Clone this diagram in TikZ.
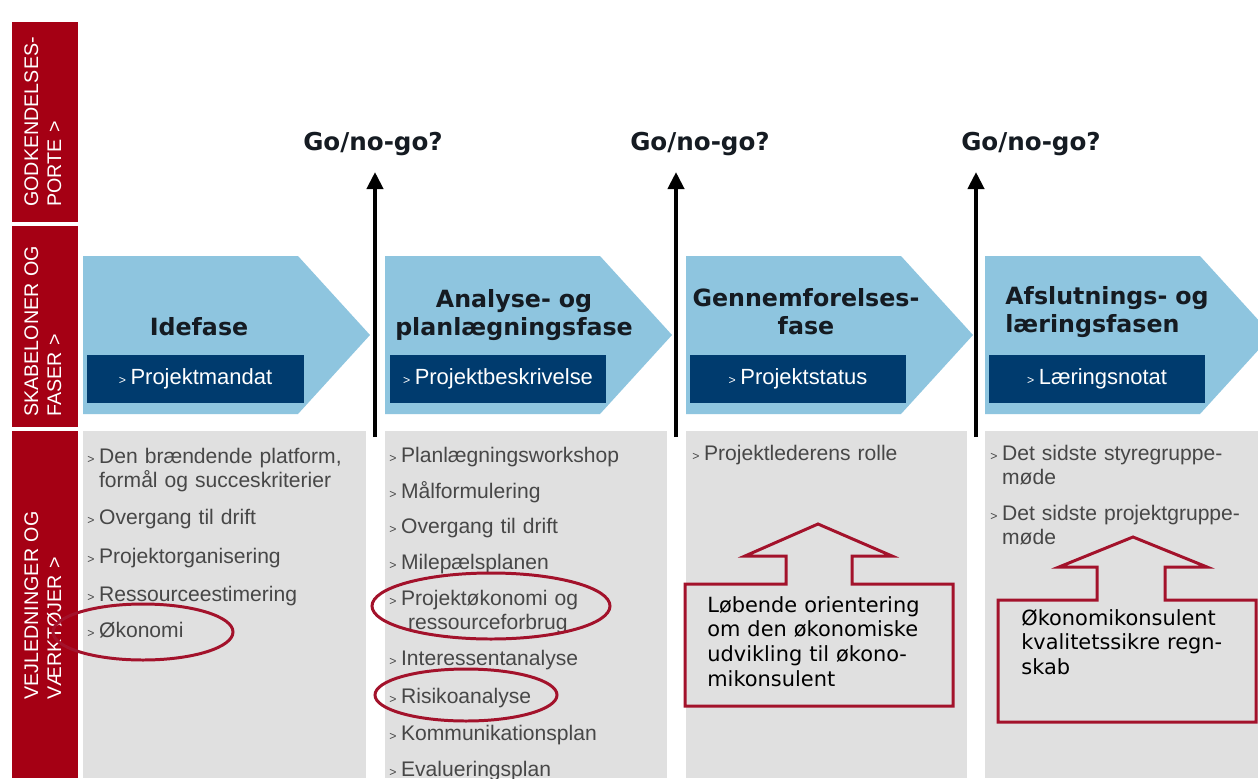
\documentclass[tikz,border=0pt]{standalone}
\usepackage{fontspec}
\setmainfont{Liberation Sans}
\newfontfamily\verdana{DejaVu Sans}
\usetikzlibrary{arrows.meta}

\definecolor{portred}{HTML}{A50014}
\definecolor{phaseblue}{HTML}{8EC5DF}
\definecolor{navy}{HTML}{003B6E}
\definecolor{toolgrey}{HTML}{E0E0E0}
\definecolor{itemgrey}{HTML}{474747}
\definecolor{markred}{HTML}{A3122B}
\definecolor{titleblack}{HTML}{151B22}

% small arrow in front of every entry
\newcommand{\bul}{{\fontsize{7}{7}\selectfont >}\hspace{2.6pt}}

\tikzset{
  bandlabel/.style={rotate=90, anchor=base west, inner sep=0pt, text=white, align=left,
    text width=4cm, font=\fontsize{11.2}{13.2}\selectfont},
  title/.style={anchor=base, inner sep=0pt, text=titleblack, align=center, text width=5cm,
    font=\verdana\bfseries\fontsize{13.5}{16.4}\selectfont},
  doc/.style={fill=navy, text=white, minimum width=4.34cm, minimum height=0.96cm,
    inner sep=0pt, font=\fontsize{12.5}{14}\selectfont},
  item/.style={anchor=base west, inner sep=0pt, text=itemgrey, align=left, text width=6cm,
    font=\fontsize{12}{13.9}\selectfont},
  gate/.style={line width=2.3pt, -{Triangle[length=0.34cm, width=0.32cm]}},
  golabel/.style={anchor=base, inner sep=0pt, text=titleblack,
    font=\verdana\bfseries\fontsize{14}{16}\selectfont},
  ring/.style={draw=markred, line width=1.7pt},
  callout/.style={draw=markred, line width=1.7pt},
  note/.style={anchor=base west, inner sep=0pt, align=left, text width=5cm,
    font=\verdana\fontsize{11.9}{14.2}\selectfont}
}

\begin{document}
\begin{tikzpicture}[x=0.02cm, y=-0.02cm]
\clip (0,0) rectangle (1258,778);
\fill[white] (0,0) rectangle (1258,778);

% red band on the left
\fill[portred] (12,22) rectangle (78,222);
\fill[portred] (12,226) rectangle (78,427);
\fill[portred] (12,431) rectangle (78,778);
\node[bandlabel] (porte) at (38,207) {GODKENDELSES-\\PORTE >};
\node[bandlabel] (faser) at (38,417) {SKABELONER OG\\FASER >};
\node[bandlabel] (vaerktoj) at (38,700) {VEJLEDNINGER OG\\VÆRKTØJER >};

% grey columns with the tools
\fill[toolgrey] (83,431) rectangle (366,778);
\fill[toolgrey] (385,431) rectangle (667,778);
\fill[toolgrey] (686,431) rectangle (967,778);
\fill[toolgrey] (985,431) rectangle (1258,778);

% the four phases
\foreach \x in {83,385,686,985}
  \fill[phaseblue] (\x,256) -- ++(215,0) -- ++(72,79) -- ++(-72,79) -- ++(-215,0) -- cycle;

\node[title] (idefase) at (199,335) {Idefase};
\node[title] (analyse) at (514,307) {Analyse- og\\planlægningsfase};
\node[title] (gennemf) at (806,306) {Gennemforelses-\\fase};
\node[title, anchor=base west, align=left] (afslut) at (1005,304) {Afslutnings- og\\læringsfasen};

\node[doc] (mandat) at (195.5,379) {\bul Projektmandat};
\node[doc] (beskriv) at (498,379) {\bul Projektbeskrivelse};
\node[doc] (status) at (798,379) {\bul Projektstatus};
\node[doc] (notat) at (1097,379) {\bul Læringsnotat};

% gates between the phases
\coordinate (gate1) at (375,437);
\coordinate (gate1 top) at (375,172);
\coordinate (gate2) at (676,437);
\coordinate (gate2 top) at (676,172);
\coordinate (gate3) at (976,437);
\coordinate (gate3 top) at (976,172);
\draw[gate] (gate1) -- (gate1 top);
\draw[gate] (gate2) -- (gate2 top);
\draw[gate] (gate3) -- (gate3 top);
\node[golabel] (go1) at (373,150) {Go/no-go?};
\node[golabel] (go2) at (700,150) {Go/no-go?};
\node[golabel] (go3) at (1031,150) {Go/no-go?};

% tools for the idea phase
\node[item] (t11) at (87,463) {\bul Den brændende platform,\\\hphantom{\bul}formål og succeskriterier};
\node[item] (t12) at (87,524) {\bul Overgang til drift};
\node[item] (t13) at (87,563) {\bul Projektorganisering};
\node[item] (t14) at (87,601) {\bul Ressourceestimering};
\node[item] (t15) at (87,637) {\bul Økonomi};

% tools for analysis and planning
\node[item] (t21) at (389,462) {\bul Planlægningsworkshop};
\node[item] (t22) at (389,498) {\bul Målformulering};
\node[item] (t23) at (389,533) {\bul Overgang til drift};
\node[item] (t24) at (389,569) {\bul Milepælsplanen};
\node[item] (t25) at (389,605) {\bul Projektøkonomi og\\\hphantom{\bul} ressourceforbrug};
\node[item] (t26) at (389,665) {\bul Interessentanalyse};
\node[item] (t27) at (389,703) {\bul Risikoanalyse};
\node[item] (t28) at (389,740) {\bul Kommunikationsplan};
\node[item] (t29) at (389,776) {\bul Evalueringsplan};

% tools for execution and closing
\node[item] (t31) at (692,460) {\bul Projektlederens rolle};
\node[item] (t41) at (990,460) {\bul Det sidste styregruppe-\\\hphantom{\bul}møde};
\node[item] (t42) at (990,520) {\bul Det sidste projektgruppe-\\\hphantom{\bul}møde};

% economy related tools
\draw[ring] (143,632) ellipse [x radius=90, y radius=28];
\draw[ring] (491,606) ellipse [x radius=119, y radius=33];
\draw[ring] (466,695) ellipse [x radius=91, y radius=26];

% notes pointing up at the tools
\draw[callout] (685,584) -- (786,584) -- (786,556) -- (745,556) -- (818,524) -- (892,556)
  -- (852,556) -- (852,584) -- (953,584) -- (953,706) -- (685,706) -- cycle;
\node[note] (orient) at (707,612) {Løbende orientering\\om den økonomiske\\udvikling til økono-\\mikonsulent};

\draw[callout] (998,600) -- (1097,600) -- (1097,567) -- (1059,567) -- (1133,537) -- (1207,567)
  -- (1165,567) -- (1165,600) -- (1256,600) -- (1256,722) -- (998,722) -- cycle;
\node[note] (regnskab) at (1021,625) {Økonomikonsulent\\kvalitetssikre regn-\\skab};
\end{tikzpicture}
\end{document}
